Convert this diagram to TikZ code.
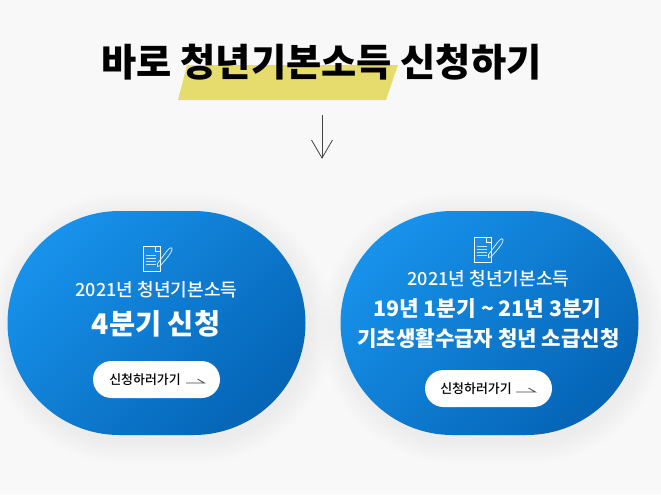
\documentclass[tikz,border=0pt]{standalone}
\usepackage{fontspec}
\setmainfont{Noto Sans CJK KR Medium}
\newfontfamily\krblack{Noto Sans CJK KR Black}
\usetikzlibrary{calc,shapes.misc}
\definecolor{pagegray}{HTML}{F8F8F8}
\definecolor{markyellow}{HTML}{E6DC6E}
\definecolor{blobstart}{HTML}{1791EA}
\definecolor{blobend}{HTML}{0565B6}
\definecolor{arrowgray}{HTML}{444444}
\tikzset{
	blob/.style={rounded rectangle, minimum width=223.5pt, minimum height=168pt, inner sep=0pt, outer sep=0pt, left color=blobstart, right color=blobend, shading angle=45},
	blobshadow/.style={fill=black, opacity=0.005, rounded rectangle, minimum width=223.5pt+#1*1.5pt, minimum height=168pt+#1*1.5pt, inner sep=0pt},
	gobutton/.style={fill=white, rounded rectangle, minimum width=95.25pt, minimum height=27.75pt, inner sep=0pt},
	smalltitle/.style={text=white, inner sep=0pt, font=\fontsize{13.55pt}{15pt}\selectfont},
	bigtitle/.style={text=white, inner sep=0pt, font=\krblack\fontsize{#1}{#1}\selectfont},
	gotext/.style={text=black, inner sep=0pt, font=\fontsize{9.7pt}{11pt}\selectfont},
	thinarrow/.style={draw=arrowgray, line width=0.6pt},
	docicon/.pic={
		\draw[white, line width=0.6pt, fill=blobstart!70!white, fill opacity=0.15] (-14.5,12.5) -- (-14.5,-12.5) -- (3,-12.5) -- (3,12.5) -- cycle;
		\draw[white, line width=0.6pt] (-2,-12.5) -- (-2,-7.5) -- (3,-7.5);
		\foreach \yline in {-3,0,3,6}
			\draw[white!75!blobstart, line width=0.9pt] (-12,\yline) -- (-2,\yline);
		\draw[white!85!blobstart, line width=0.6pt] (0,5) -- (9,-7) .. controls (12,-11) and (15,-12) .. (14.5,-9) .. controls (14,-5) and (8,1) .. (3,7) -- (0,8) -- cycle;
	}
}
\begin{document}
\begin{tikzpicture}[x=0.75pt,y=-0.75pt]
	\useasboundingbox[fill=pagegray] (0,0) rectangle (661,494);

	% title
	\fill[markyellow] (187,65) -- (398,65) -- (386,100) -- (178,100) -- cycle;
	\node[text=black, inner sep=0pt, font=\krblack\fontsize{28.7pt}{30pt}\selectfont] (maintitle) at (321.5,62.5) {바로 청년기본소득 신청하기};

	\coordinate (downstart) at (322,115);
	\coordinate (downend) at (322,158);
	\draw[thinarrow] (downstart) -- (downend);
	\draw[thinarrow] ($(downend)+(-10.5,-18)$) -- (downend) -- ($(downend)+(10.5,-18)$);

	% soft shadows
	\foreach \spread in {24,22,...,2}{
		\node[blobshadow=\spread] at (160,328) {};
		\node[blobshadow=\spread] at (493,328) {};
	}

	% left
	\node[blob] (leftblob) at (156.5,323) {};
	\pic at (157.5,258.5) {docicon};
	\node[smalltitle] (leftyear) at (156.5,290) {2021년 청년기본소득};
	\node[bigtitle=21.3pt] (leftmain) at (156,324) {4분기 신청};
	\node[gobutton] (leftbutton) at (156.5,379.5) {};
	\node[gotext] (leftgo) at (145,379.5) {신청하러가기};
	\coordinate (leftarrowa) at (186,383);
	\coordinate (leftarrowb) at (204.5,383);
	\draw[thinarrow] (leftarrowa) -- (leftarrowb) -- ($(leftarrowb)+(-7,-4)$);

	% right
	\node[blob] (rightblob) at (489.5,323) {};
	\pic at (488.5,249.5) {docicon};
	\node[smalltitle] (rightyear) at (488.5,279) {2021년 청년기본소득};
	\node[bigtitle=16pt] (rightmaina) at (487.5,308) {19년 1분기 \char`~{} 21년 3분기};
	\node[bigtitle=15.85pt] (rightmainb) at (488.5,339) {기초생활수급자 청년 소급신청};
	\node[gobutton] (rightbutton) at (488.5,388.5) {};
	\node[gotext] (rightgo) at (476,388.5) {신청하러가기};
	\coordinate (rightarrowa) at (516,392);
	\coordinate (rightarrowb) at (535.5,392);
	\draw[thinarrow] (rightarrowa) -- (rightarrowb) -- ($(rightarrowb)+(-7,-4)$);
\end{tikzpicture}
\end{document}
